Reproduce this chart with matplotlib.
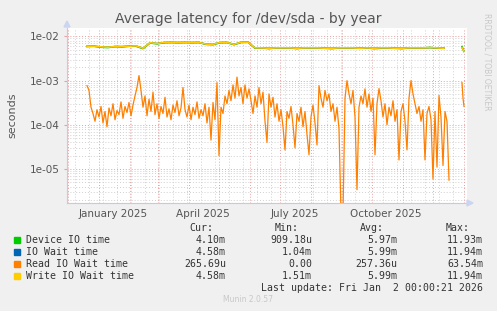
import numpy as np
import pandas as pd
import matplotlib
matplotlib.use('Agg')
import matplotlib.pyplot as plt

# weekly samples for the ~6 ms series (ms), starting 2024-12-20
week_start = '2024-12-20'
device_ms = [5.9, 6.0, 5.7, 5.6, 5.9, 5.8, 6.0, 6.0, 5.3, 7.1, 6.8, 7.2, 7.3, 7.2, 7.3, 7.2,
             7.3, 6.6, 6.5, 7.2, 7.3, 6.5, 7.3, 7.4, 5.4, 5.5, 5.3, 5.5, 5.4, 5.5, 5.3, 5.5,
             5.4, 5.5, 5.4, 5.3, 5.5, 5.4, 5.5, 5.4, 5.5, 5.3, 5.4, 5.5, 5.4, 5.3, 5.5, 5.4,
             5.5, 5.6, 5.4, 5.4]
iowait_ms = [6.0, 6.0, 5.8, 5.7, 5.9, 5.9, 6.0, 6.1, 5.4, 7.2, 6.9, 7.3, 7.3, 7.3, 7.3, 7.3,
             7.3, 6.7, 6.6, 7.3, 7.3, 6.6, 7.4, 7.4, 5.5, 5.5, 5.4, 5.5, 5.5, 5.5, 5.4, 5.5,
             5.5, 5.5, 5.4, 5.4, 5.5, 5.5, 5.5, 5.4, 5.5, 5.4, 5.5, 5.5, 5.4, 5.4, 5.5, 5.5,
             5.5, 5.6, 5.5, 5.4]
write_ms = [6.0, 6.0, 5.8, 5.7, 5.9, 5.9, 6.0, 6.1, 5.4, 7.2, 6.9, 7.3, 7.3, 7.3, 7.3, 7.3,
            7.3, 6.7, 6.6, 7.3, 7.3, 6.6, 7.4, 7.4, 5.5, 5.5, 5.4, 5.5, 5.5, 5.5, 5.4, 5.5,
            5.5, 5.5, 5.4, 5.4, 5.5, 5.5, 5.5, 5.4, 5.5, 5.4, 5.5, 5.5, 5.4, 5.4, 5.5, 5.5,
            5.5, 5.6, 5.5, 5.4]

# last few days after the gap
tail_dates = ['2025-12-30', '2025-12-31', '2026-01-01']
device_tail = [5.9, 5.2, 4.6]
iowait_tail = [5.6, 5.1, 4.6]
write_tail = [5.6, 5.1, 4.6]

# read IO wait, every 2 days (microseconds), starting 2024-12-20
read_start = '2024-12-20'
read_us = [770, 600, 250, 180, 120, 220, 150, 260, 110, 200, 90, 240, 160, 300, 130, 210,
           170, 330, 140, 260, 190, 320, 160, 280, 450, 700, 1300, 600, 250, 450, 160, 380,
           200, 550, 170, 300, 140, 260, 180, 420, 150, 230, 130, 280, 190, 350, 160, 240,
           700, 220, 150, 280, 130, 250, 170, 330, 140, 220, 160, 300, 110, 250, 45, 320,
           130, 900, 20, 250, 180, 450, 300, 600, 350, 800, 400, 1200, 450, 700, 300, 800,
           400, 650, 350, 180, 450, 250, 700, 300, 550, 120, 40, 500, 250, 420, 150, 300,
           120, 220, 90, 27, 200, 140, 260, 100, 30, 180, 120, 250, 90, 200, 60, 21,
           150, 280, 110, 35, 770, 400, 250, 600, 350, 500, 200, 300, 120, 250, 80, 1,
           1, 400, 1000, 500, 300, 600, 150, 3.4, 250, 450, 300, 650, 250, 500, 200, 400,
           21, 300, 660, 350, 150, 300, 100, 250, 160, 350, 120, 220, 16, 200, 300, 120,
           27, 400, 1000, 500, 300, 180, 260, 120, 220, 16, 180, 260, 130, 6, 200, 11,
           460, 150, 12, 200, 120, 5.6]
read_tail = [900, 400, 260]

legend_names = ['Device IO time', 'IO Wait time', 'Read IO Wait time', 'Write IO Wait time']
legend_colors = ['#00CC00', '#0066B3', '#FF8000', '#FFCC00']
cur_vals = ['4.10m', '4.58m', '265.69u', '4.58m']
min_vals = ['909.18u', '1.04m', '0.00', '1.51m']
avg_vals = ['5.97m', '5.99m', '257.36u', '5.99m']
max_vals = ['11.93m', '11.94m', '63.54m', '11.94m']

gap = [pd.Timestamp('2025-12-16')]
wk_dates = list(pd.date_range(week_start, periods=len(write_ms), freq='7D')) + gap + list(pd.to_datetime(tail_dates))
rd_dates = list(pd.date_range(read_start, periods=len(read_us), freq='2D')) + [pd.Timestamp('2025-12-17')] + list(pd.to_datetime(tail_dates))

def ms(a, t):
    return np.array(a + [np.nan] + t) / 1000.0

device = ms(device_ms, device_tail)
iowait = ms(iowait_ms, iowait_tail)
write = ms(write_ms, write_tail)
read = np.array(read_us + [np.nan] + read_tail) / 1e6

W, H = 497, 311
fig = plt.figure(figsize=(W / 100, H / 100), dpi=100, facecolor='#F0F0F0')
ax = fig.add_axes([67 / W, (H - 203) / H, 400 / W, 175 / H])
ax.set_facecolor('white')

ax.set_yscale('log')
ax.set_ylim(1.7e-6, 1.55e-2)
x0, x1 = pd.Timestamp('2024-11-30'), pd.Timestamp('2026-01-04')
ax.set_xlim(x0, x1)

# grid
for m in pd.date_range('2024-12-01', '2026-01-01', freq='MS'):
    ax.axvline(m, color='#E8A0A0', lw=0.7, ls=(0, (1, 2)), zorder=1)
for d in pd.date_range('2024-12-08', '2026-01-01', freq='14D'):
    ax.axvline(d, color='#D0D0D0', lw=0.7, ls=(0, (1, 2)), zorder=0.9)
for e in range(-6, -1):
    ax.axhline(10.0 ** e, color='#E8A0A0', lw=0.7, ls=(0, (1, 2)), zorder=1)
    for k in range(2, 10):
        v = k * 10.0 ** e
        if v < 1.55e-2:
            ax.axhline(v, color='#D0D0D0', lw=0.7, ls=(0, (1, 2)), zorder=0.9)

ax.plot(wk_dates, device, color=legend_colors[0], lw=1.2, zorder=3)
ax.plot(wk_dates, iowait, color=legend_colors[1], lw=1.0, zorder=3)
ax.plot(rd_dates, read, color=legend_colors[2], lw=0.9, zorder=3)
ax.plot(wk_dates, write, color=legend_colors[3], lw=1.2, zorder=4)

ax.set_yticks([1e-5, 1e-4, 1e-3, 1e-2])
ax.set_yticklabels(['1e-05', '1e-04', '1e-03', '1e-02'])
ax.yaxis.set_minor_locator(matplotlib.ticker.NullLocator())
ax.tick_params(axis='y', length=2, color='#E8A0A0', labelsize=7.5, labelcolor='#555555', pad=3)

mids = [pd.Timestamp('2025-01-15'), pd.Timestamp('2025-04-15'), pd.Timestamp('2025-07-16'), pd.Timestamp('2025-10-15')]
ax.set_xticks(mids)
ax.set_xticklabels(['January 2025', 'April 2025', 'July 2025', 'October 2025'])
ax.tick_params(axis='x', length=0, labelsize=7.5, labelcolor='#555555', pad=4)

for s in ['top', 'right']:
    ax.spines[s].set_visible(False)
for s in ['left', 'bottom']:
    ax.spines[s].set_color('#C8C8E0')
    ax.spines[s].set_linewidth(0.8)
ax.set_ylabel('seconds', fontsize=8, color='#555555', labelpad=9)

# axis arrows
fig.patches.append(plt.Polygon([[64 / W, 1 - 27 / H], [70 / W, 1 - 27 / H], [67 / W, 1 - 21 / H]],
                               closed=True, transform=fig.transFigure, color='#CCD5F0'))
fig.patches.append(plt.Polygon([[467 / W, 1 - 200 / H], [467 / W, 1 - 206 / H], [473 / W, 1 - 203 / H]],
                               closed=True, transform=fig.transFigure, color='#CCD5F0'))

fig.text(248 / W, 1 - 19 / H, 'Average latency for /dev/sda - by year', ha='center', va='center',
         fontsize=10, color='#555555')
fig.text(487 / W, 1 - 13 / H, 'RRDTOOL / TOBI OETIKER', rotation=270, ha='center', va='top',
         fontsize=5.5, color='#C8C8C8')

mono = dict(family='DejaVu Sans Mono', fontsize=7.1, color='#333333', va='center')
fig.text(213 / W, 1 - 228 / H, 'Cur:', ha='right', **mono)
fig.text(299 / W, 1 - 228 / H, 'Min:', ha='right', **mono)
fig.text(384 / W, 1 - 228 / H, 'Avg:', ha='right', **mono)
fig.text(470 / W, 1 - 228 / H, 'Max:', ha='right', **mono)
rows_y = [240, 252, 264, 276]
for i, name in enumerate(legend_names):
    y = 1 - rows_y[i] / H
    fig.patches.append(plt.Rectangle((14 / W, y - 3 / H), 6 / W, 6 / H, transform=fig.transFigure,
                                     color=legend_colors[i]))
    fig.text(26 / W, y, name, ha='left', **mono)
    fig.text(226 / W, y, cur_vals[i], ha='right', **mono)
    fig.text(312 / W, y, min_vals[i], ha='right', **mono)
    fig.text(397 / W, y, avg_vals[i], ha='right', **mono)
    fig.text(483 / W, y, max_vals[i], ha='right', **mono)
fig.text(483 / W, 1 - 288 / H, 'Last update: Fri Jan  2 00:00:21 2026', ha='right', **mono)
fig.text(248 / W, 1 - 300 / H, 'Munin 2.0.57', ha='center', va='center', fontsize=5.5, color='#C8C8C8')

fig.savefig('out.png', dpi=100, facecolor=fig.get_facecolor())
